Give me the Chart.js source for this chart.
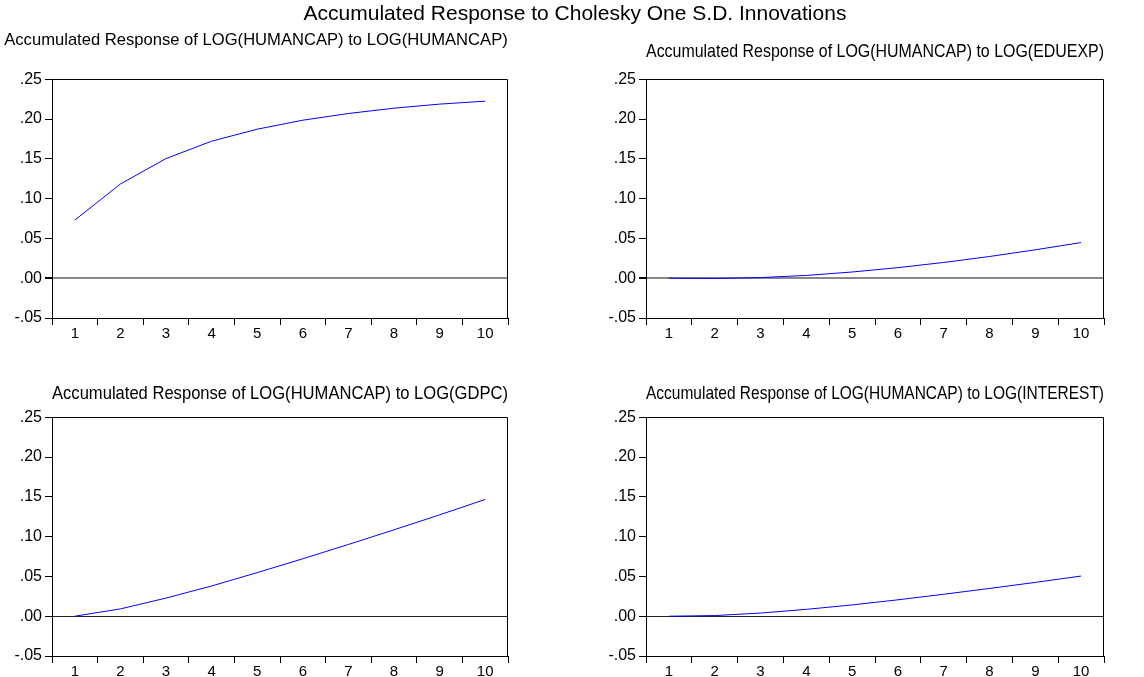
<!DOCTYPE html>
<html>
<head>
<meta charset="utf-8">
<script src="https://cdn.jsdelivr.net/npm/chart.js"></script>
<style>
  html, body { margin:0; padding:0; background:#ffffff; }
  body { width:1144px; height:677px; overflow:hidden; position:relative; font-family:"Liberation Sans", Arial, sans-serif; }
  #mainTitle { position:absolute; left:3px; top:1px; width:1144px; text-align:center; font-size:21px; line-height:24px; color:#000; z-index:2; }
  canvas { position:absolute; }
</style>
</head>
<body>
<div id="mainTitle"></div>
<canvas id="c1" width="512" height="345" style="left:0px;top:0px"></canvas>
<canvas id="c2" width="572" height="345" style="left:572px;top:0px"></canvas>
<canvas id="c3" width="572" height="339" style="left:0px;top:338px"></canvas>
<canvas id="c4" width="572" height="339" style="left:572px;top:338px"></canvas>
<script>
// ---- data ----
const mainTitle = 'Accumulated Response to Cholesky One S.D. Innovations';
const periods = ['1', '2', '3', '4', '5', '6', '7', '8', '9', '10'];
const respHumancap = [0.073, 0.1184, 0.1504, 0.1722, 0.1873, 0.1986, 0.2070, 0.2137, 0.2188, 0.2225];
const respEduexp   = [0.0000, -0.0003, 0.0008, 0.0035, 0.0078, 0.0133, 0.0198, 0.0273, 0.0357, 0.0448];
const respGdpc     = [0.0000, 0.0092, 0.0228, 0.0380, 0.0548, 0.0722, 0.0902, 0.1086, 0.1274, 0.1468];
const respInterest = [0.0000, 0.0008, 0.0040, 0.0086, 0.0142, 0.0206, 0.0276, 0.0349, 0.0425, 0.0505];
const subtitles = [
  'Accumulated Response of LOG(HUMANCAP) to LOG(HUMANCAP)',
  'Accumulated Response of LOG(HUMANCAP) to LOG(EDUEXP)',
  'Accumulated Response of LOG(HUMANCAP) to LOG(GDPC)',
  'Accumulated Response of LOG(HUMANCAP) to LOG(INTEREST)'
];
const yMin = -0.05, yMax = 0.25, yStep = 0.05;

document.getElementById('mainTitle').textContent = mainTitle;

const FONT = '"Liberation Sans", Arial, sans-serif';

function fmtTick(v) {
  if (Math.abs(v) < 1e-9) return '.00';
  const s = Number(v).toFixed(2);
  return s.replace(/^(-?)0\./, '$1.');
}

const framePlugin = {
  id: 'frame',
  afterDraw(chart) {
    const { ctx, chartArea: a } = chart;
    ctx.save();
    ctx.strokeStyle = '#000';
    ctx.lineWidth = 1;
    ctx.beginPath();
    const t = Math.round(a.top) + 0.5, r = Math.round(a.right) - 0.5;
    ctx.moveTo(Math.round(a.left), t);
    ctx.lineTo(r, t);
    ctx.lineTo(r, Math.round(a.bottom));
    ctx.stroke();
    ctx.restore();
  }
};

function makeChart(id, data, title, opts) {
  const zeroColor = opts.zeroColor, zeroWidth = opts.zeroWidth;
  return new Chart(document.getElementById(id), {
    type: 'line',
    data: {
      labels: periods,
      datasets: [{
        data: data,
        borderColor: '#0000ff',
        borderWidth: 1,
        pointRadius: 0,
        pointHoverRadius: 0,
        tension: 0,
        fill: false
      }]
    },
    options: {
      responsive: false,
      animation: false,
      devicePixelRatio: 1,
      events: [],
      layout: { padding: { left: opts.padLeft, right: opts.padRight, top: 0, bottom: 0 } },
      plugins: {
        legend: { display: false },
        tooltip: { enabled: false },
        title: {
          display: true,
          text: title,
          fullSize: opts.fullSize,
          color: '#000',
          font: { family: FONT, size: opts.titleSize, weight: 'normal', lineHeight: 1.2 },
          padding: { top: opts.titleTop, bottom: opts.titleBottom }
        }
      },
      scales: {
        x: {
          type: 'category',
          offset: true,
          border: { display: true, color: '#000', width: 1 },
          grid: { display: true, offset: true, drawOnChartArea: false, drawTicks: true, tickLength: 7, tickColor: '#000', color: '#000' },
          ticks: { color: '#000', font: { family: FONT, size: 15 }, padding: 0, maxRotation: 0, autoSkip: false },
          afterFit(scale) { scale.height = opts.xHeight; }
        },
        y: {
          min: yMin,
          max: yMax,
          border: { display: true, color: '#000', width: 1 },
          grid: {
            display: true,
            drawOnChartArea: true,
            drawTicks: true,
            tickLength: 7,
            tickColor: '#000',
            color: (c) => (c.tick && Math.abs(c.tick.value) < 1e-9) ? zeroColor : 'rgba(0,0,0,0)',
            lineWidth: (c) => (c.tick && Math.abs(c.tick.value) < 1e-9) ? zeroWidth : 1
          },
          ticks: { stepSize: yStep, color: '#000', font: { family: FONT, size: 16 }, padding: 3, callback: fmtTick },
          afterFit(scale) { scale.width = opts.yWidth; }
        }
      }
    },
    plugins: [framePlugin]
  });
}

// chart area targets: left plots 52..508, right plots 646..1104; tops 79.3 / 417.3, bottoms 318 / 656
makeChart('c1', respHumancap, subtitles[0], { padLeft: 4, padRight: 4, yWidth: 48, fullSize: true,  titleSize: 16.6, titleTop: 30, titleBottom: 29.38, xHeight: 27, zeroColor: '#888888', zeroWidth: 2 });
makeChart('c2', respEduexp,   subtitles[1], { padLeft: 22, padRight: 40, yWidth: 52, fullSize: false, titleSize: 18.2, titleTop: 41.1, titleBottom: 16.36, xHeight: 27, zeroColor: '#888888', zeroWidth: 2 });
makeChart('c3', respGdpc,     subtitles[2], { padLeft: 0, padRight: 64, yWidth: 52, fullSize: false, titleSize: 18.2, titleTop: 45.1, titleBottom: 12.36, xHeight: 21, zeroColor: '#222222', zeroWidth: 1 });
makeChart('c4', respInterest, subtitles[3], { padLeft: 22, padRight: 40, yWidth: 52, fullSize: false, titleSize: 18.2, titleTop: 45.1, titleBottom: 12.36, xHeight: 21, zeroColor: '#222222', zeroWidth: 1 });
</script>
</body>
</html>
